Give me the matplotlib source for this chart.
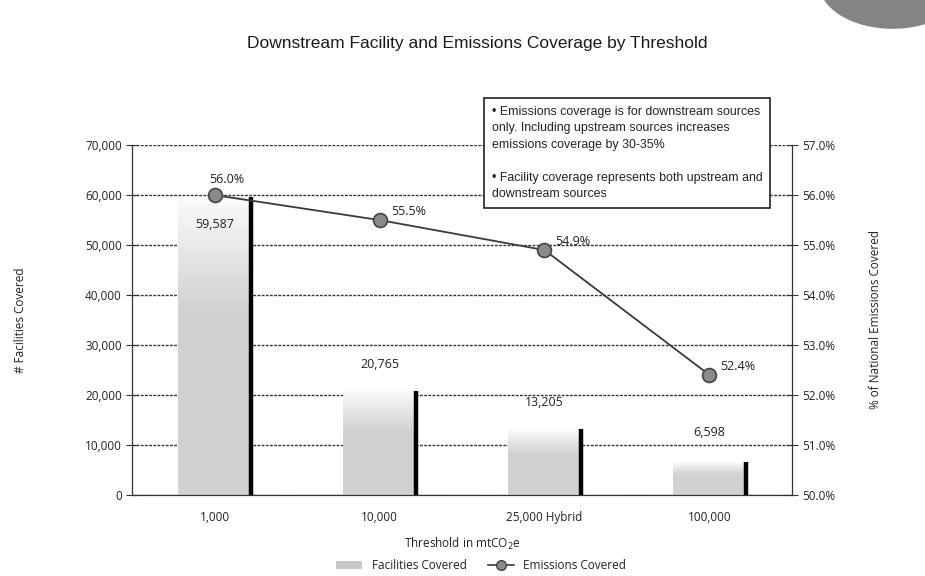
import numpy as np
import matplotlib
matplotlib.use("Agg")
import matplotlib.pyplot as plt
from matplotlib.patches import Patch, Circle
from matplotlib.lines import Line2D

# ---- data ----
thresholds = ["1,000", "10,000", "25,000 Hybrid", "100,000"]
facilities = [59587, 20765, 13205, 6598]
emissions_pct = [56.0, 55.5, 54.9, 52.4]
left_ticks = [0, 10000, 20000, 30000, 40000, 50000, 60000, 70000]
right_ticks = [50.0, 51.0, 52.0, 53.0, 54.0, 55.0, 56.0, 57.0]
note_lines = [
    "\u2022 Emissions coverage is for downstream sources",
    "only. Including upstream sources increases",
    "emissions coverage by 30-35%",
    "",
    "\u2022 Facility coverage represents both upstream and",
    "downstream sources",
]

plt.rcParams['font.family'] = ['Open Sans', 'DejaVu Sans']
TXT = '#222222'

fig = plt.figure(figsize=(9.25, 5.76), dpi=100)
ax = fig.add_axes([0.143, 0.141, 0.713, 0.607])
ax2 = ax.twinx()

x = np.arange(len(thresholds))
bw = 0.44
bars = ax.bar(x, facilities, width=bw, facecolor='none', edgecolor='none', zorder=2)

# gradient fill + black right edge for each bar
t = np.linspace(0, 1, 256)
for rect in bars:
    x0, w, h = rect.get_x(), rect.get_width(), rect.get_height()
    v = np.where(t < 0.62, 0.82, 0.82 + (t - 0.62) / 0.38 * (0.985 - 0.82))
    img = np.dstack([v, v, v]).reshape(256, 1, 3)
    im = ax.imshow(img, extent=[x0, x0 + w, 0, h], origin='lower',
                   aspect='auto', zorder=2, interpolation='bilinear')
    im.set_clip_path(rect)
    ax.vlines(x0 + w, 0, h, color='black', linewidth=3.2, zorder=3)

ax.set_xlim(-0.5, len(thresholds) - 0.5)
ax.set_ylim(0, 70000)
ax.set_yticks(left_ticks)
ax.set_yticklabels([f"{v:,}" for v in left_ticks], color=TXT, fontsize=8.5)
ax.set_xticks(x)
ax.set_xticklabels(thresholds, color=TXT, fontsize=8.5)
ax.tick_params(axis='x', length=0, pad=12)
ax.tick_params(axis='y', direction='inout', length=8, width=0.8, color='#333333')
ax.set_axisbelow(True)
ax.yaxis.grid(True, color='#333333', linewidth=1.0, linestyle=(0, (2, 1)))

# bar value labels
bar_offsets = [-20, 19, 19, 21]
for xi, v, off in zip(x, facilities, bar_offsets):
    ax.annotate(f"{v:,}", (xi, v), xytext=(0, off), textcoords='offset points',
                ha='center', va='center', fontsize=9, color=TXT, zorder=6)

for s in ['top']:
    ax.spines[s].set_visible(False)
    ax2.spines[s].set_visible(False)
for a in (ax, ax2):
    a.spines['left'].set_linestyle((0, (1.5, 1)))
    a.spines['right'].set_linestyle((0, (1.5, 1)))
    a.spines['left'].set_color('#333333')
    a.spines['right'].set_color('#333333')
    a.spines['bottom'].set_color('#333333')
    a.spines['bottom'].set_linestyle((0, (2, 1)))

# line on secondary axis
ax2.plot(x, emissions_pct, color='#3a3a3a', linewidth=1.3, marker='o',
         markersize=10, markerfacecolor='#8a8a8a', markeredgecolor='#444444',
         markeredgewidth=1.2, zorder=5)
ax2.set_ylim(50, 57)
ax2.set_yticks(right_ticks)
ax2.set_yticklabels([f"{v:.1f}%" for v in right_ticks], color=TXT, fontsize=8.5)
ax2.tick_params(axis='y', direction='inout', length=8, width=0.8, color='#333333')

line_offsets = [(9, 11, 'center'), (8, 6, 'left'), (8, 6, 'left'), (8, 6, 'left')]
for xi, v, (dx, dy, ha) in zip(x, emissions_pct, line_offsets):
    ax2.annotate(f"{v:.1f}%", (xi, v), xytext=(dx, dy), textcoords='offset points',
                 ha=ha, va='center', fontsize=9, color=TXT)

ax.set_ylabel("# Facilities Covered", fontsize=8.5, color=TXT, labelpad=42)
ax2.set_ylabel("% of National Emissions Covered", fontsize=8.5, color=TXT, labelpad=24)
ax.set_xlabel("Threshold in mtCO$_2$e", fontsize=8.5, color=TXT, labelpad=8)

fig.text(0.516, 0.925, "Downstream Facility and Emissions Coverage by Threshold",
         ha='center', va='center', fontsize=12.5, color='#1a1a1a',
         family=['Liberation Sans', 'DejaVu Sans'])

# note box
ax2.text(0.545, 1.113, "\n".join(note_lines), transform=ax.transAxes,
         ha='left', va='top', fontsize=8.9, color=TXT, linespacing=1.5,
         family=['Liberation Sans', 'DejaVu Sans'], zorder=10,
         bbox=dict(boxstyle='square,pad=0.6', facecolor='white',
                   edgecolor='#222222', linewidth=1.2))

# legend
handles = [Patch(facecolor='#c8c8c8', edgecolor='none', label='Facilities Covered'),
           Line2D([0], [0], color='#3a3a3a', linewidth=1.2, marker='o', markersize=7,
                  markerfacecolor='#8a8a8a', markeredgecolor='#444444',
                  label='Emissions Covered')]
fig.legend(handles=handles, loc='center', bbox_to_anchor=(0.52, 0.018), ncol=2,
           frameon=False, fontsize=8.5, handlelength=2.2, columnspacing=1.8,
           labelcolor=TXT)

# decorative corner shape from the scanned page
fig.patches.append(Circle((0.965, 1.03), 0.08, transform=fig.transFigure,
                          facecolor='#6e6e6e', edgecolor='none', alpha=0.85))

fig.savefig("out.png", dpi=100)
